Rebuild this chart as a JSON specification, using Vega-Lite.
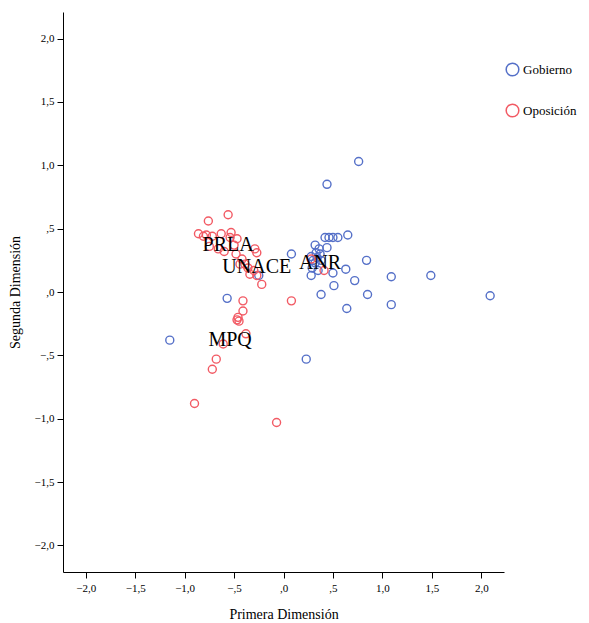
{
  "$schema": "https://vega.github.io/schema/vega-lite/v6.json",
  "autosize": {"type": "none"},
  "width": 441,
  "height": 560,
  "padding": {"left": 63, "top": 12, "right": 85, "bottom": 51},
  "background": "white",
  "config": {
    "view": {"stroke": null},
    "font": "Liberation Serif",
    "axis": {"grid": false, "domainColor": "#000000", "tickColor": "#000000", "labelColor": "#000000", "titleColor": "#000000", "labelFont": "Liberation Serif", "titleFont": "Liberation Serif", "labelFontSize": 11, "titleFontSize": 14, "titleFontWeight": "normal", "tickSize": 6}
  },
  "datasets": {
    "pts": [
      {"x": 0.76, "y": 1.03, "grupo": "Gobierno"},
      {"x": 0.44, "y": 0.85, "grupo": "Gobierno"},
      {"x": 0.65, "y": 0.45, "grupo": "Gobierno"},
      {"x": 0.42, "y": 0.43, "grupo": "Gobierno"},
      {"x": 0.46, "y": 0.43, "grupo": "Gobierno"},
      {"x": 0.50, "y": 0.43, "grupo": "Gobierno"},
      {"x": 0.55, "y": 0.43, "grupo": "Gobierno"},
      {"x": 0.08, "y": 0.30, "grupo": "Gobierno"},
      {"x": 0.32, "y": 0.37, "grupo": "Gobierno"},
      {"x": 0.36, "y": 0.34, "grupo": "Gobierno"},
      {"x": 0.44, "y": 0.35, "grupo": "Gobierno"},
      {"x": 0.33, "y": 0.31, "grupo": "Gobierno"},
      {"x": 0.37, "y": 0.30, "grupo": "Gobierno"},
      {"x": 0.28, "y": 0.28, "grupo": "Gobierno"},
      {"x": 0.34, "y": 0.27, "grupo": "Gobierno"},
      {"x": 0.32, "y": 0.23, "grupo": "Gobierno"},
      {"x": 0.29, "y": 0.19, "grupo": "Gobierno"},
      {"x": 0.35, "y": 0.17, "grupo": "Gobierno"},
      {"x": 0.28, "y": 0.13, "grupo": "Gobierno"},
      {"x": 0.63, "y": 0.18, "grupo": "Gobierno"},
      {"x": 0.50, "y": 0.15, "grupo": "Gobierno"},
      {"x": 0.84, "y": 0.25, "grupo": "Gobierno"},
      {"x": 0.72, "y": 0.09, "grupo": "Gobierno"},
      {"x": 0.51, "y": 0.05, "grupo": "Gobierno"},
      {"x": 1.09, "y": 0.12, "grupo": "Gobierno"},
      {"x": 1.49, "y": 0.13, "grupo": "Gobierno"},
      {"x": 2.09, "y": -0.03, "grupo": "Gobierno"},
      {"x": 0.38, "y": -0.02, "grupo": "Gobierno"},
      {"x": 0.85, "y": -0.02, "grupo": "Gobierno"},
      {"x": 1.09, "y": -0.10, "grupo": "Gobierno"},
      {"x": 0.64, "y": -0.13, "grupo": "Gobierno"},
      {"x": 0.23, "y": -0.53, "grupo": "Gobierno"},
      {"x": -0.57, "y": -0.05, "grupo": "Gobierno"},
      {"x": -0.25, "y": 0.13, "grupo": "Gobierno"},
      {"x": -1.15, "y": -0.38, "grupo": "Gobierno"},
      {"x": 0.38, "y": 0.25, "grupo": "Gobierno"},
      {"x": 0.30, "y": 0.25, "grupo": "Gobierno"},
      {"x": -0.76, "y": 0.56, "grupo": "Oposición"},
      {"x": -0.56, "y": 0.61, "grupo": "Oposición"},
      {"x": -0.86, "y": 0.46, "grupo": "Oposición"},
      {"x": -0.81, "y": 0.44, "grupo": "Oposición"},
      {"x": -0.78, "y": 0.45, "grupo": "Oposición"},
      {"x": -0.72, "y": 0.44, "grupo": "Oposición"},
      {"x": -0.63, "y": 0.46, "grupo": "Oposición"},
      {"x": -0.53, "y": 0.47, "grupo": "Oposición"},
      {"x": -0.54, "y": 0.43, "grupo": "Oposición"},
      {"x": -0.47, "y": 0.42, "grupo": "Oposición"},
      {"x": -0.75, "y": 0.36, "grupo": "Oposición"},
      {"x": -0.66, "y": 0.34, "grupo": "Oposición"},
      {"x": -0.60, "y": 0.32, "grupo": "Oposición"},
      {"x": -0.48, "y": 0.30, "grupo": "Oposición"},
      {"x": -0.42, "y": 0.26, "grupo": "Oposición"},
      {"x": -0.29, "y": 0.34, "grupo": "Oposición"},
      {"x": -0.27, "y": 0.31, "grupo": "Oposición"},
      {"x": -0.44, "y": 0.22, "grupo": "Oposición"},
      {"x": -0.39, "y": 0.22, "grupo": "Oposición"},
      {"x": -0.36, "y": 0.19, "grupo": "Oposición"},
      {"x": -0.34, "y": 0.14, "grupo": "Oposición"},
      {"x": -0.30, "y": 0.17, "grupo": "Oposición"},
      {"x": -0.27, "y": 0.13, "grupo": "Oposición"},
      {"x": -0.22, "y": 0.06, "grupo": "Oposición"},
      {"x": -0.41, "y": -0.07, "grupo": "Oposición"},
      {"x": -0.41, "y": -0.15, "grupo": "Oposición"},
      {"x": -0.46, "y": -0.20, "grupo": "Oposición"},
      {"x": -0.47, "y": -0.22, "grupo": "Oposición"},
      {"x": -0.45, "y": -0.23, "grupo": "Oposición"},
      {"x": -0.38, "y": -0.33, "grupo": "Oposición"},
      {"x": -0.61, "y": -0.41, "grupo": "Oposición"},
      {"x": -0.68, "y": -0.53, "grupo": "Oposición"},
      {"x": -0.72, "y": -0.61, "grupo": "Oposición"},
      {"x": -0.90, "y": -0.88, "grupo": "Oposición"},
      {"x": -0.07, "y": -1.03, "grupo": "Oposición"},
      {"x": 0.08, "y": -0.07, "grupo": "Oposición"},
      {"x": 0.28, "y": 0.26, "grupo": "Oposición"},
      {"x": 0.41, "y": 0.17, "grupo": "Oposición"},
      {"x": -0.50, "y": 0.37, "grupo": "Oposición"}
    ],
    "labels": [
      {"x": -0.56, "y": 0.37, "partido": "PRLA"},
      {"x": -0.27, "y": 0.20, "partido": "UNACE"},
      {"x": 0.37, "y": 0.23, "partido": "ANR"},
      {"x": -0.54, "y": -0.38, "partido": "MPQ"}
    ]
  },
  "layer": [
    {
      "data": {"name": "pts"},
      "mark": {"type": "point", "shape": "circle", "filled": false, "size": 64, "strokeWidth": 1.4, "opacity": 1},
      "encoding": {
        "x": {"field": "x", "type": "quantitative", "title": "Primera Dimensión",
          "scale": {"domain": [-2.23, 2.23], "nice": false, "zero": false},
          "axis": {"values": [-2, -1.5, -1, -0.5, 0, 0.5, 1, 1.5, 2], "labelExpr": "replace(replace(format(datum.value, '.1f'), '0.', '.'), '.', ',')", "titlePadding": 14, "labelPadding": 4}},
        "y": {"field": "y", "type": "quantitative", "title": "Segunda Dimensión",
          "scale": {"domain": [-2.21, 2.21], "nice": false, "zero": false},
          "axis": {"values": [-2, -1.5, -1, -0.5, 0, 0.5, 1, 1.5, 2], "labelExpr": "replace(replace(format(datum.value, '.1f'), '0.', '.'), '.', ',')", "titlePadding": 12, "labelPadding": 3}},
        "color": {"field": "grupo", "type": "nominal",
          "scale": {"domain": ["Gobierno", "Oposición"], "range": ["#5570c8", "#f25a64"]},
          "legend": {"title": null, "orient": "none", "legendX": 442, "legendY": 50, "symbolType": "circle", "symbolSize": 160, "symbolStrokeWidth": 1.5, "symbolFillColor": "transparent", "labelFont": "Liberation Serif", "labelFontSize": 13, "labelColor": "#000000", "rowPadding": 22, "labelOffset": 3}}
      }
    },
    {
      "data": {"name": "labels"},
      "mark": {"type": "text", "font": "Liberation Serif", "fontSize": 20, "color": "#000000", "align": "center", "baseline": "middle"},
      "encoding": {
        "x": {"field": "x", "type": "quantitative"},
        "y": {"field": "y", "type": "quantitative"},
        "text": {"field": "partido", "type": "nominal"}
      }
    }
  ]
}
